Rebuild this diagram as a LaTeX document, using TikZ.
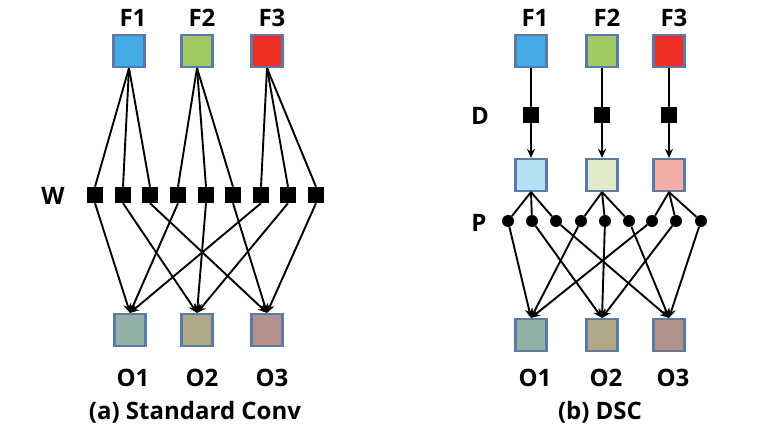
\documentclass[tikz,border=0pt]{standalone}
\usepackage{fontspec}
\setmainfont{Open Sans}
\usetikzlibrary{arrows.meta}
\definecolor{bordercol}{HTML}{5A7BA8}
\definecolor{cF1}{HTML}{45ABE6}
\definecolor{cF2}{HTML}{A1CB62}
\definecolor{cF3}{HTML}{EC3024}
\definecolor{cM1}{HTML}{B4E1F6}
\definecolor{cM2}{HTML}{DFEBCA}
\definecolor{cM3}{HTML}{F2AFAA}
\definecolor{cO1}{HTML}{92B0A6}
\definecolor{cO2}{HTML}{B1A888}
\definecolor{cO3}{HTML}{B4918A}
\begin{document}
\begin{tikzpicture}[x=1pt,y=-1pt,
  fbox/.style={draw=bordercol, line width=2.2pt, minimum width=31pt, minimum height=32pt, inner sep=0pt},
  wsq/.style={fill=black, minimum size=16pt, inner sep=0pt},
  pdot/.style={circle, fill=black, minimum size=12pt, inner sep=0pt},
  lbl/.style={font=\bfseries\fontsize{24}{24}\selectfont, inner sep=0pt},
  captext/.style={font=\bfseries\fontsize{24}{24}\selectfont, inner sep=0pt},
  conn/.style={line width=1.9pt},
  arr/.style={conn, -{Stealth[length=9pt,width=8pt]}}]
\useasboundingbox (0,0) rectangle (766,430);

% ---------- (a) Standard Conv ----------
\node[fbox, fill=cF1] (aF1) at (129,51) {};
\node[fbox, fill=cF2] (aF2) at (197,51) {};
\node[fbox, fill=cF3] (aF3) at (267,51) {};
\node[lbl] (aL1) at (133,18) {F1};
\node[lbl] (aL2) at (202,18) {F2};
\node[lbl] (aL3) at (272,18) {F3};

\node[lbl] (aW) at (53,196) {W};
\foreach \i/\x in {1/95,2/123,3/150,4/178,5/206,6/233,7/261,8/288,9/316}
  \node[wsq] (aw\i) at (\x,195) {};

\node[fbox, fill=cO1] (aO1) at (130,330) {};
\node[fbox, fill=cO2] (aO2) at (197,330) {};
\node[fbox, fill=cO3] (aO3) at (267,330) {};
\node[lbl] (aN1) at (133,378) {O1};
\node[lbl] (aN2) at (202,378) {O2};
\node[lbl] (aN3) at (272,378) {O3};
\node[captext] (acap) at (195,412) {(a) Standard Conv};

\foreach \f/\a/\b/\c in {1/1/2/3,2/4/5/6,3/7/8/9}{
  \draw[conn] (aF\f.south) -- (aw\a.north);
  \draw[conn] (aF\f.south) -- (aw\b.north);
  \draw[conn] (aF\f.south) -- (aw\c.north);
}
\foreach \w/\o in {1/1,2/2,3/3,4/1,5/2,6/3,7/1,8/2,9/3}
  \draw[arr] (aw\w.south) -- (aO\o.north);

% ---------- (b) DSC ----------
\node[fbox, fill=cF1] (bF1) at (531,51) {};
\node[fbox, fill=cF2] (bF2) at (602,51) {};
\node[fbox, fill=cF3] (bF3) at (669,51) {};
\node[lbl] (bL1) at (535,18) {F1};
\node[lbl] (bL2) at (607,18) {F2};
\node[lbl] (bL3) at (674,18) {F3};

\node[lbl] (bD) at (480,116) {D};
\node[wsq] (bd1) at (531,115) {};
\node[wsq] (bd2) at (602,115) {};
\node[wsq] (bd3) at (669,115) {};

\node[fbox, fill=cM1] (bM1) at (531,175) {};
\node[fbox, fill=cM2] (bM2) at (602,175) {};
\node[fbox, fill=cM3] (bM3) at (669,175) {};

\node[lbl] (bP) at (479,223) {P};
\foreach \i/\x in {1/508,2/532,3/556,4/581,5/605,6/629,7/652,8/676,9/701}
  \node[pdot] (bp\i) at (\x,221) {};

\node[fbox, fill=cO1] (bO1) at (531,335) {};
\node[fbox, fill=cO2] (bO2) at (602,335) {};
\node[fbox, fill=cO3] (bO3) at (669,335) {};
\node[lbl] (bN1) at (535,378) {O1};
\node[lbl] (bN2) at (606,378) {O2};
\node[lbl] (bN3) at (673,378) {O3};
\node[captext] (bcap) at (600,412) {(b) DSC};

\foreach \i in {1,2,3}{
  \draw[conn] (bF\i.south) -- (bd\i.north);
  \draw[arr] (bd\i.south) -- (bM\i.north);
}
\foreach \m/\a/\b/\c in {1/1/2/3,2/4/5/6,3/7/8/9}{
  \draw[conn] (bM\m.south) -- (bp\a);
  \draw[conn] (bM\m.south) -- (bp\b);
  \draw[conn] (bM\m.south) -- (bp\c);
}
\foreach \p/\o in {1/1,2/2,3/3,4/1,5/2,6/3,7/1,8/2,9/3}
  \draw[arr] (bp\p) -- (bO\o.north);
\end{tikzpicture}
\end{document}
